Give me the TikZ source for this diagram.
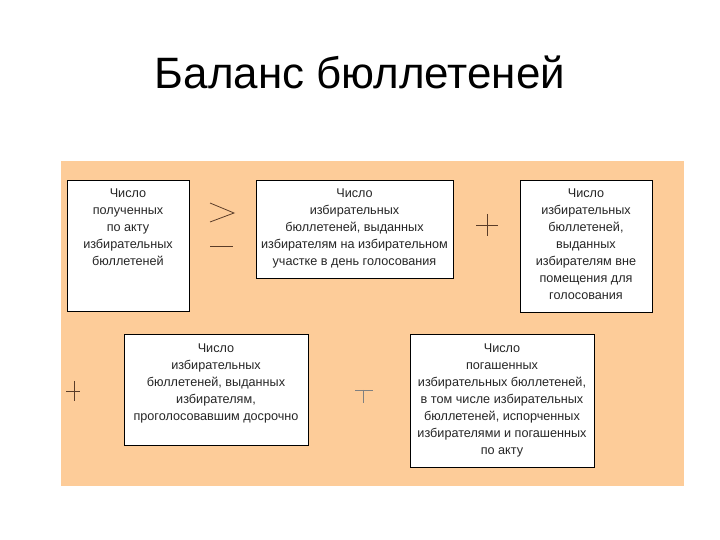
\documentclass[tikz,border=0pt]{standalone}
\usepackage{fontspec}
\setmainfont{Liberation Sans}
\usetikzlibrary{positioning}

\definecolor{panelorange}{RGB}{253,204,153}
\definecolor{signbrown}{RGB}{90,60,40}

\tikzset{
  countbox/.style={draw=black, fill=white, line width=0.5pt, inner sep=0pt, outer sep=0pt},
  boxtext/.style={anchor=north, align=center, inner sep=0pt, text=black!85,
    font=\fontsize{7.2}{9.7}\selectfont},
  opsign/.style={line width=0.45pt, signbrown}
}

\begin{document}
\begin{tikzpicture}[x=0.02cm,y=-0.02cm]

  \useasboundingbox (0,0) rectangle (720,540);

  % Title
  \node[font=\fontsize{25}{30}\selectfont] (title) at (360,72) {Баланс бюллетеней};

  % Background panel
  \fill[panelorange] (61,161) rectangle (684,486);

  % Boxes
  \node[countbox, minimum width=2.44cm, minimum height=2.62cm] (got) at (128,245.5) {};
  \node[countbox, minimum width=3.94cm, minimum height=1.96cm] (issued) at (354.5,229) {};
  \node[countbox, minimum width=2.64cm, minimum height=2.64cm] (outside) at (586,246) {};
  \node[countbox, minimum width=3.68cm, minimum height=2.22cm] (early) at (216,389.5) {};
  \node[countbox, minimum width=3.68cm, minimum height=2.66cm] (cancelled) at (502,400.5) {};

  % Texts
  \node[boxtext, below=0.16cm of got.north] (gottext)
    {Число\\полученных\\по акту\\избирательных\\бюллетеней};
  \node[boxtext, below=0.16cm of issued.north] (issuedtext)
    {Число\\избирательных\\бюллетеней, выданных\\избирателям на избирательном\\участке в день голосования};
  \node[boxtext, below=0.16cm of outside.north] (outsidetext)
    {Число\\избирательных\\бюллетеней,\\выданных\\избирателям вне\\помещения для\\голосования};
  \node[boxtext, below=0.18cm of early.north] (earlytext)
    {Число\\избирательных\\бюллетеней, выданных\\избирателям,\\проголосовавшим досрочно};
  \node[boxtext, below=0.18cm of cancelled.north] (cancelledtext)
    {Число\\погашенных\\избирательных бюллетеней,\\в том числе избирательных\\бюллетеней, испорченных\\избирателями и погашенных\\по акту};

  % Signs between the boxes
  \draw[opsign] (210,203) -- (234,213) -- (210,222);
  \draw[opsign] (210,246) -- (233,246);
  \draw[opsign] (476,225) -- (498,225);
  \draw[opsign] (487,214) -- (487,236);
  \draw[opsign] (66,391) -- (80,391);
  \draw[opsign] (74,381) -- (74,401);
  \draw[opsign, gray] (355,390) -- (373,390);
  \draw[opsign, gray] (363,390) -- (363,403);

\end{tikzpicture}
\end{document}
